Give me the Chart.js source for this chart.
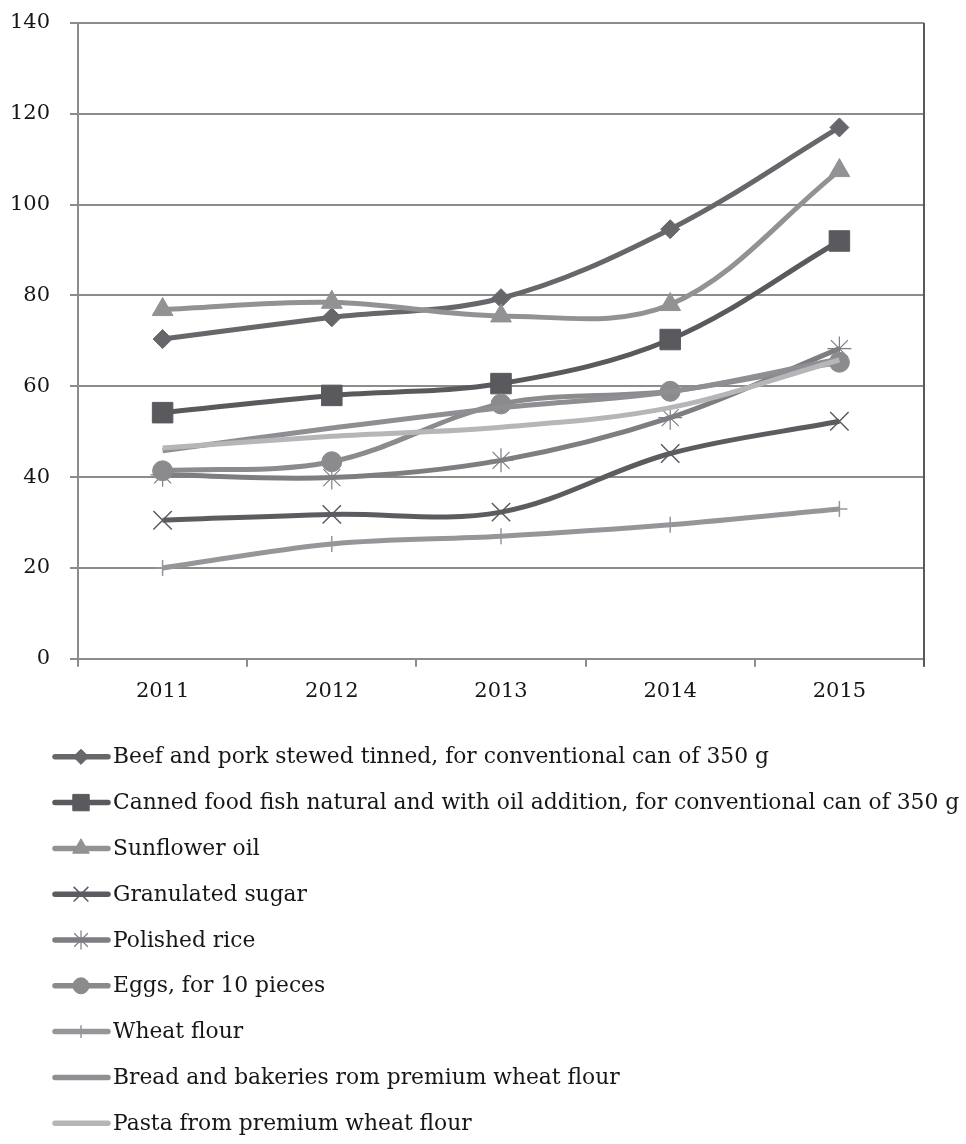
<html><head>
    <meta charset="UTF-8">
    <meta name="viewport" content="width=device-width, initial-scale=1.0">
    <title>Food Prices 2011-2015</title>
    <script src="https://cdn.jsdelivr.net/npm/chart.js"></script>
    <style>
        body {
            margin: 0;
            padding: 0;
            background-color: #fff;
        }
        .chart-container {
            position: relative;
            width: 966px;
            height: 1144px;
        }
    </style>
</head>
<body>
    <div class="chart-container">
        <canvas id="priceChart"></canvas>
    </div>
    <script>
        // Years on the x axis
        const years = ['2011', '2012', '2013', '2014', '2015'];

        // Prices per product
        const beefPork = [70.4, 75.2, 79.4, 94.6, 117.0];
        const cannedFish = [54.2, 58.0, 60.6, 70.3, 92.0];
        const sunflowerOil = [76.9, 78.5, 75.5, 78.0, 107.5];
        const sugar = [30.5, 31.8, 32.3, 45.2, 52.3];
        const rice = [40.5, 39.9, 43.7, 53.1, 68.3];
        const eggs = [41.4, 43.4, 56.1, 58.9, 65.3];
        const wheatFlour = [20.0, 25.3, 27.0, 29.5, 33.0];
        const bread = [45.8, 50.8, 55.3, 58.8, 66.0];
        const pasta = [46.4, 49.0, 51.0, 55.3, 65.8];

        const yTicks = [0, 20, 40, 60, 80, 100, 120, 140];

        const seriesNames = [
            'Beef and pork stewed tinned, for conventional can of 350 g',
            'Canned food fish natural and with oil addition, for conventional can of 350 g',
            'Sunflower oil',
            'Granulated sugar',
            'Polished rice',
            'Eggs, for 10 pieces',
            'Wheat flour',
            'Bread and bakeries rom premium wheat flour',
            'Pasta from premium wheat flour'
        ];
        const seriesValues = [beefPork, cannedFish, sunflowerOil, sugar, rice, eggs, wheatFlour, bread, pasta];

        // line colour, marker style, marker radius, marker border
        const seriesStyles = [
            { color: '#67676b', point: 'rectRot', radius: 9.5, border: 1 },
            { color: '#5a5a5e', point: 'rect', radius: 14.5, border: 1 },
            { color: '#929295', point: 'triangle', radius: 12, border: 1 },
            { color: '#5c5c60', point: 'crossRot', radius: 13, border: 1.5 },
            { color: '#7e7e82', point: 'star', radius: 12, border: 1.2 },
            { color: '#8b8b8e', point: 'circle', radius: 10, border: 1 },
            { color: '#96969a', point: 'cross', radius: 8, border: 1.5 },
            { color: '#8f8f93', point: false, radius: 0, border: 0 },
            { color: '#b6b6b9', point: false, radius: 0, border: 0 }
        ];

        const fontFamily = "'DejaVu Serif', serif";
        const textColor = '#161616';
        const gridColor = '#8c8c8c';

        // Vertical border on the right side of the plot area
        const rightBorder = {
            id: 'rightBorder',
            afterDatasetsDraw(chart) {
                const { ctx, chartArea } = chart;
                ctx.save();
                ctx.strokeStyle = '#59595b';
                ctx.lineWidth = 2;
                ctx.beginPath();
                ctx.moveTo(chartArea.right, chartArea.top);
                ctx.lineTo(chartArea.right, chartArea.bottom + 8);
                ctx.stroke();
                ctx.restore();
            }
        };

        // One legend entry per row, stacked under the x axis
        const stackedLegend = {
            id: 'stackedLegend',
            afterDraw(chart) {
                const { ctx, chartArea } = chart;
                const top = chartArea.bottom + 98;
                const rowHeight = 45.8;
                ctx.save();
                chart.data.datasets.forEach((ds, i) => {
                    const st = seriesStyles[i];
                    const y = top + i * rowHeight;
                    ctx.strokeStyle = st.color;
                    ctx.lineWidth = 5.5;
                    ctx.lineCap = 'round';
                    ctx.beginPath();
                    ctx.moveTo(55, y);
                    ctx.lineTo(108, y);
                    ctx.stroke();
                    if (st.point) {
                        ctx.fillStyle = st.color;
                        ctx.strokeStyle = st.color;
                        ctx.lineWidth = st.border;
                        ctx.lineCap = 'butt';
                        Chart.helpers.drawPoint(ctx, {
                            pointStyle: st.point,
                            radius: st.radius * 0.8,
                            borderWidth: st.border,
                            rotation: 0
                        }, 81, y);
                    }
                    ctx.fillStyle = textColor;
                    ctx.font = '21.8px ' + fontFamily;
                    ctx.textBaseline = 'middle';
                    ctx.textAlign = 'left';
                    ctx.fillText(ds.label, 113, y + 1);
                });
                ctx.restore();
            }
        };

        const ctx = document.getElementById('priceChart').getContext('2d');
        new Chart(ctx, {
            type: 'line',
            data: {
                labels: years,
                datasets: seriesNames.map((name, i) => ({
                    label: name,
                    data: seriesValues[i],
                    borderColor: seriesStyles[i].color,
                    backgroundColor: seriesStyles[i].color,
                    borderWidth: 5,
                    tension: 0.35,
                    pointStyle: seriesStyles[i].point,
                    pointRadius: seriesStyles[i].radius,
                    pointBorderWidth: seriesStyles[i].border,
                    pointBackgroundColor: seriesStyles[i].color,
                    pointBorderColor: seriesStyles[i].color,
                    fill: false,
                    order: seriesNames.length - i
                }))
            },
            options: {
                responsive: true,
                maintainAspectRatio: false,
                animation: false,
                layout: {
                    padding: { top: 23, right: 42, bottom: 428, left: 10 }
                },
                scales: {
                    x: {
                        offset: true,
                        grid: {
                            offset: true,
                            drawOnChartArea: false,
                            drawTicks: true,
                            tickLength: 8,
                            color: gridColor,
                            lineWidth: 2
                        },
                        border: { color: gridColor, width: 2 },
                        ticks: {
                            color: textColor,
                            font: { family: fontFamily, size: 21 },
                            padding: 12
                        }
                    },
                    y: {
                        min: yTicks[0],
                        max: yTicks[yTicks.length - 1],
                        afterBuildTicks(scale) {
                            scale.ticks = yTicks.map(v => ({ value: v }));
                        },
                        afterFit(scale) {
                            scale.width = 68;
                            scale.paddingTop = 0;
                        },
                        grid: {
                            color: gridColor,
                            lineWidth: 2,
                            tickLength: 8
                        },
                        border: { color: gridColor, width: 2 },
                        ticks: {
                            color: textColor,
                            font: { family: fontFamily, size: 21 },
                            padding: 20
                        }
                    }
                },
                plugins: {
                    legend: { display: false },
                    tooltip: { enabled: false }
                }
            },
            plugins: [rightBorder, stackedLegend]
        });
    </script>
</body></html>
